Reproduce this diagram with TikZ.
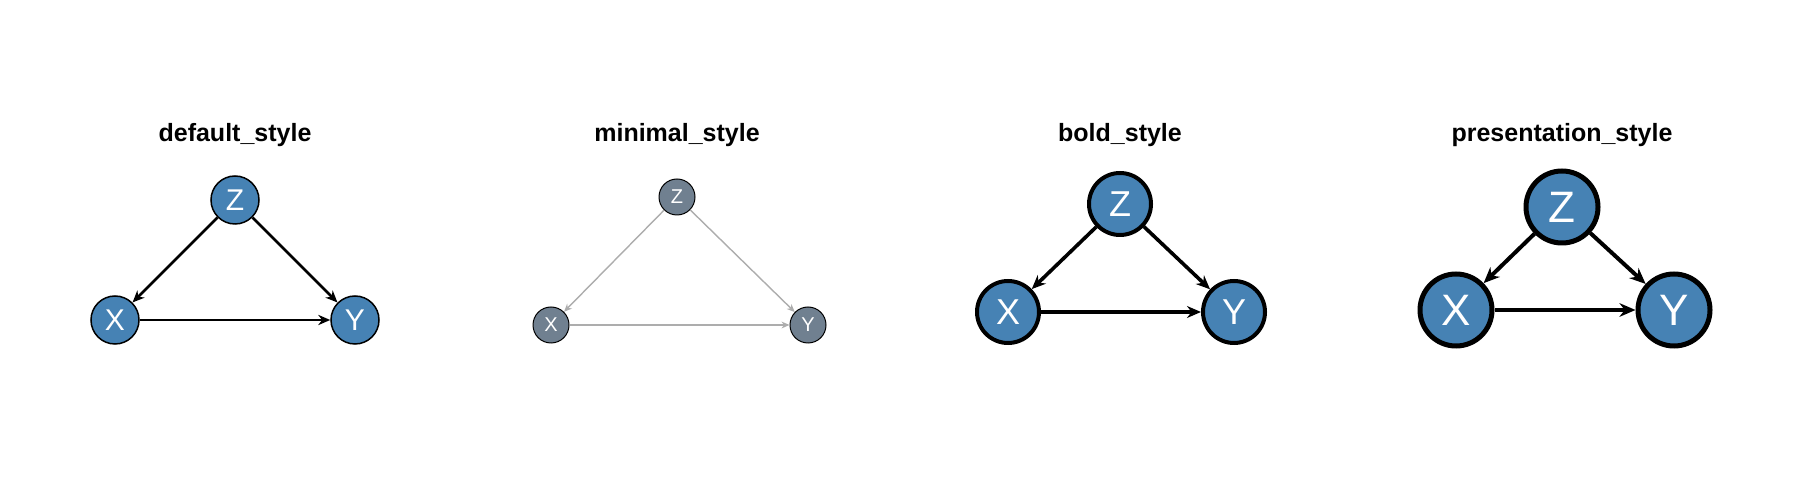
\documentclass[tikz,border=0pt]{standalone}
\usepackage{fontspec}
\setmainfont{Liberation Sans}
\usetikzlibrary{arrows.meta}
\definecolor{steel}{HTML}{4682B4}
\definecolor{slate}{HTML}{708090}
\begin{document}
\begin{tikzpicture}[x=0.5pt,y=-0.5pt,
  ttl/.style={font=\bfseries\fontsize{12.5}{14}\selectfont},
  dn/.style={circle,draw=black,fill=steel,text=white,inner sep=0pt,minimum size=#1},
  e/.style={-{Stealth[length=#1,width=#1*0.85]},black},
]
\useasboundingbox (0,0) rectangle (1800,480);
% default
\node[ttl] (t1) at (235,135) {default\_style};
\begin{scope}[every node/.style={dn=48pt*0.5,line width=0.75pt,font=\fontsize{15}{15}\selectfont}]
\node (z1) at (235,200) {Z};
\node (x1) at (115,320) {X};
\node (y1) at (355,320) {Y};
\end{scope}
\draw[e=6pt,line width=1.4pt] (z1)--(x1);
\draw[e=6pt,line width=1.4pt] (z1)--(y1);
\draw[e=6pt,line width=1.4pt] (x1)--(y1);
% minimal
\node[ttl] (t2) at (677,135) {minimal\_style};
\begin{scope}[every node/.style={dn=36pt*0.5,fill=slate,line width=0.5pt,font=\fontsize{10}{10}\selectfont}]
\node (z2) at (677,197) {Z};
\node (x2) at (551,325) {X};
\node (y2) at (808,325) {Y};
\end{scope}
\draw[e=4pt,line width=0.7pt,draw=black!32,fill=black!32] (z2)--(x2);
\draw[e=4pt,line width=0.7pt,draw=black!32,fill=black!32] (z2)--(y2);
\draw[e=4pt,line width=0.7pt,draw=black!32,fill=black!32] (x2)--(y2);
% bold
\node[ttl] (t3) at (1120,135) {bold\_style};
\begin{scope}[every node/.style={dn=62pt*0.5,line width=2pt,font=\fontsize{18}{18}\selectfont}]
\node (z3) at (1120,204) {Z};
\node (x3) at (1008,312) {X};
\node (y3) at (1234,312) {Y};
\end{scope}
\draw[e=7pt,line width=1.8pt] (z3)--(x3);
\draw[e=7pt,line width=1.8pt] (z3)--(y3);
\draw[e=7pt,line width=1.8pt] (x3)--(y3);
% presentation
\node[ttl] (t4) at (1562,135) {presentation\_style};
\begin{scope}[every node/.style={dn=72pt*0.5,line width=2.5pt,font=\fontsize{22}{22}\selectfont}]
\node (z4) at (1562,207) {Z};
\node (x4) at (1456,310) {X};
\node (y4) at (1674,310) {Y};
\end{scope}
\draw[e=8pt,line width=2pt] (z4)--(x4);
\draw[e=8pt,line width=2pt] (z4)--(y4);
\draw[e=8pt,line width=2pt] (x4)--(y4);
\end{tikzpicture}
\end{document}
